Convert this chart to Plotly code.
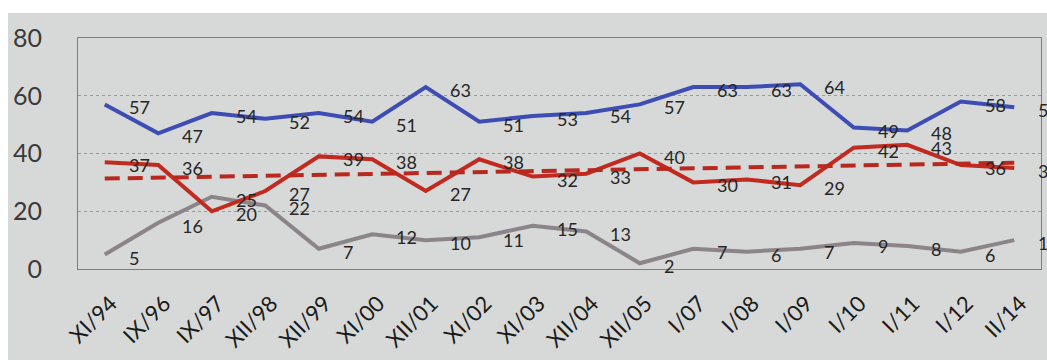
import numpy as np
import plotly.graph_objects as go

# Survey waves
periods = ["XI/94", "IX/96", "IX/97", "XII/98", "XII/99", "XI/00", "XII/01", "XI/02",
           "XI/03", "XII/04", "XII/05", "I/07", "I/08", "I/09", "I/10", "I/11", "I/12", "II/14"]

# Shares (%) for the three answer groups
blue_vals = [57, 47, 54, 52, 54, 51, 63, 51, 53, 54, 57, 63, 63, 64, 49, 48, 58, 56]
red_vals = [37, 36, 20, 27, 39, 38, 27, 38, 32, 33, 40, 30, 31, 29, 42, 43, 36, 35]
grey_vals = [5, 16, 25, 22, 7, 12, 10, 11, 15, 13, 2, 7, 6, 7, 9, 8, 6, 10]

y_ticks = [0, 20, 40, 60, 80]

# Linear trend of the red series
idx = np.arange(len(red_vals))
slope, intercept = np.polyfit(idx, red_vals, 1)
red_trend = slope * idx + intercept

W, H = 1047, 360
L, R, T, B = 78, 6, 38, 91
PW, PH = W - L - R, H - T - B

FONT = "Lato, Open Sans, sans-serif"
label_font = dict(family=FONT, size=18, color="#262626")

fig = go.Figure()


def add_series(vals, color, name):
    fig.add_trace(go.Scatter(
        x=periods, y=vals, mode="lines", name=name,
        line=dict(color=color, width=4),
    ))


add_series(grey_vals, "#8b8589", "grey")
add_series(red_vals, "#c22a20", "red")
fig.add_trace(go.Scatter(
    x=periods, y=red_trend, mode="lines", name="trend",
    line=dict(color="#b8281f", width=4, dash="15px,8px"),
))
add_series(blue_vals, "#3d4db3", "blue")

# value labels, set to the right of each point
annotations = []
for vals in (grey_vals, red_vals, blue_vals):
    for p, v in zip(periods, vals):
        annotations.append(dict(
            x=p, y=v, text=str(v), showarrow=False,
            xanchor="left", yanchor="middle", xshift=22, yshift=-3,
            font=label_font,
        ))

# page background of the printed sheet
fig.add_shape(type="rect", xref="paper", yref="paper", layer="below",
              x0=(8 - L) / PW, x1=(W - L) / PW,
              y0=-B / PH, y1=(H - 13 - B) / PH,
              fillcolor="#d6d9d8", line=dict(width=0))

fig.update_layout(
    width=W, height=H,
    margin=dict(l=L, r=R, t=T, b=B),
    paper_bgcolor="white",
    plot_bgcolor="rgba(0,0,0,0)",
    showlegend=False,
    annotations=annotations,
    xaxis=dict(
        type="category", range=[-0.5, len(periods) - 0.5],
        tickangle=-45, ticks="", showgrid=False,
        tickfont=dict(family=FONT, size=22, color="#1a1a1a"),
        ticklabelstandoff=12, ticklabelshift=6,
        showline=True, linecolor="#7d7d7d", linewidth=1, mirror=True,
        zeroline=False,
    ),
    yaxis=dict(
        range=[0, 80], tickvals=y_ticks, ticks="",
        tickfont=dict(family=FONT, size=25, color="#3a3a3a"),
        ticklabelstandoff=30,
        showgrid=True, gridcolor="#9a9a9a", griddash="dot", gridwidth=1,
        showline=True, linecolor="#7d7d7d", linewidth=1, mirror=True,
        zeroline=False,
    ),
)

fig.write_html("out.html")
